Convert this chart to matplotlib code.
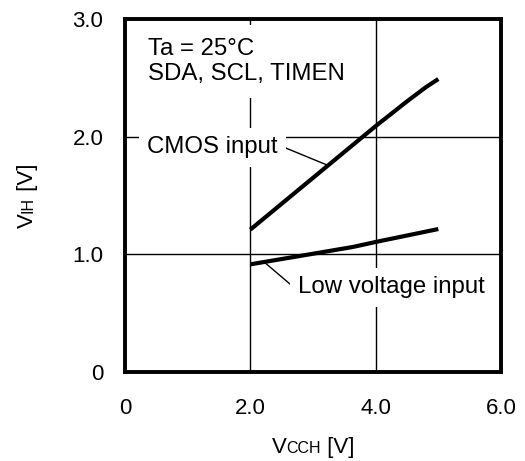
import matplotlib
matplotlib.use("Agg")
import matplotlib.pyplot as plt

plt.rcParams['font.family'] = ['Liberation Sans', 'DejaVu Sans']

# data
cmos_x = [2.0, 3.0, 4.0, 4.5, 4.8, 5.0]
cmos_y = [1.21, 1.65, 2.09, 2.30, 2.42, 2.49]
low_x = [2.0, 3.0, 3.64, 4.0, 4.5, 5.0]
low_y = [0.915, 1.005, 1.063, 1.105, 1.16, 1.215]
xticks = [0, 2, 4, 6]
xticklabels = ["0", "2.0", "4.0", "6.0"]
yticks = [0, 1, 2, 3]
yticklabels = ["0", "1.0", "2.0", "3.0"]

W, H = 525, 461
fig = plt.figure(figsize=(W / 100, H / 100), dpi=100)
ax = fig.add_axes([125 / W, (H - 372) / H, (501 - 125) / W, (372 - 19) / H])
ax.set_xlim(0, 6)
ax.set_ylim(0, 3)
ax.set_xticks(xticks)
ax.set_xticklabels(xticklabels)
ax.set_yticks(yticks)
ax.set_yticklabels(yticklabels)
ax.tick_params(axis='x', length=0, pad=18.5, labelsize=16)
ax.tick_params(axis='y', length=0, pad=15.5, labelsize=16)
for s in ax.spines.values():
    s.set_linewidth(2.8)
    s.set_zorder(5)
ax.grid(True, color='black', linewidth=1.0)
ax.set_axisbelow(True)

ax.plot(cmos_x, cmos_y, color='black', linewidth=3.0, solid_capstyle='butt', zorder=2)
ax.plot(low_x, low_y, color='black', linewidth=3.0, solid_capstyle='butt', zorder=2)

ax.text(0.37, 2.64, "Ta = 25\u00b0C\nSDA, SCL, TIMEN", fontsize=17.3, ha='left', va='center',
        linespacing=1.2, bbox=dict(facecolor='white', edgecolor='none', pad=9), zorder=4)
box = dict(facecolor='white', edgecolor='none', pad=6)
ax.text(0.35, 1.91, "CMOS input", fontsize=17.3, ha='left', va='center', bbox=box, zorder=4)
ax.text(2.76, 0.72, "Low voltage input", fontsize=17.3, ha='left', va='center', bbox=box, zorder=4)
ax.plot([2.49, 3.22], [1.92, 1.76], color='black', linewidth=1.0, zorder=3)
ax.plot([2.23, 2.65], [0.93, 0.74], color='black', linewidth=1.0, zorder=3)

# axis labels with small-size subscript parts on the baseline
fig.canvas.draw()
r = fig.canvas.get_renderer()

def place_pieces(pieces, x0, y0, rotated):
    pos = x0 if not rotated else y0
    for txt, size in pieces:
        if rotated:
            t = fig.text(x0, pos, txt, fontsize=size, rotation=90, rotation_mode='anchor',
                         ha='left', va='baseline', transform=None)
            bb = t.get_window_extent(r)
            pos += bb.height
        else:
            t = fig.text(pos, y0, txt, fontsize=size, ha='left', va='baseline', transform=None)
            bb = t.get_window_extent(r)
            pos += bb.width
    return pos

xl = [("V", 16), ("CCH", 11.5), (" [V]", 16)]
yl = [("V", 16), ("IH", 11.5), (" [V]", 16)]

def total_width(pieces):
    w = 0
    for txt, size in pieces:
        t = fig.text(0, 0, txt, fontsize=size, transform=None)
        w += t.get_window_extent(r).width
        t.remove()
    return w

wx = total_width(xl)
wy = total_width(yl)
cx = (125 + 501) / 2
cy = H - (19 + 372) / 2
place_pieces(xl, cx - wx / 2, H - 453, rotated=False)
place_pieces(yl, 33, cy - wy / 2, rotated=True)

fig.savefig("out.png", dpi=100)
